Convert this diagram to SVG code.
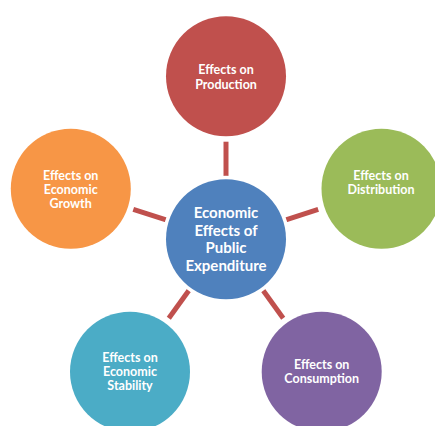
<svg xmlns="http://www.w3.org/2000/svg" width="435" height="426" viewBox="0 0 435 426">
<style>
.ring{fill:#FFFFFF}
.lbl{fill:#FFFFFF;font-family:Lato,"Liberation Sans",sans-serif;font-weight:bold;font-size:12.5px;text-anchor:middle}
.big{font-size:15px}
.conn line{stroke:#C0504D;stroke-width:5;stroke-linecap:butt}
</style>
<rect width="435" height="426" fill="#FFFFFF"/>
<g class="conn" id="connectors">
<line x1="226" y1="176.5" x2="226" y2="141.7"/>
<line x1="285.9" y1="219.9" x2="318.2" y2="209.4"/>
<line x1="166.1" y1="219.9" x2="133.3" y2="209.4"/>
<line x1="189" y1="290.3" x2="168.8" y2="318.3"/>
<line x1="263" y1="290.3" x2="283.2" y2="318.3"/>
</g>
<g id="production">
<circle class="ring" cx="226" cy="76.3" r="63.5"/>
<circle cx="226" cy="76.3" r="60" fill="#C0504D"/>
<text class="lbl" x="226" y="74">Effects on</text>
<text class="lbl" x="226" y="88.5">Production</text>
</g>
<g id="distribution">
<circle class="ring" cx="381.5" cy="188.8" r="63.5"/>
<circle cx="381.5" cy="188.8" r="60" fill="#9BBB59"/>
<text class="lbl" x="381" y="180">Effects on</text>
<text class="lbl" x="381" y="193.7">Distribution</text>
</g>
<g id="growth">
<circle class="ring" cx="70.8" cy="188.8" r="63.5"/>
<circle cx="70.8" cy="188.8" r="60" fill="#F79646"/>
<text class="lbl" x="70.7" y="180">Effects on</text>
<text class="lbl" x="70.7" y="194">Economic</text>
<text class="lbl" x="70.7" y="208">Growth</text>
</g>
<g id="center">
<circle class="ring" cx="226" cy="239.3" r="63.5"/>
<circle cx="226" cy="239.3" r="60" fill="#4F81BD"/>
<text class="lbl big" x="226" y="218">Economic</text>
<text class="lbl big" x="226" y="236">Effects of</text>
<text class="lbl big" x="226" y="253.3">Public</text>
<text class="lbl big" x="226" y="271">Expenditure</text>
</g>
<g id="stability">
<circle class="ring" cx="130" cy="371.7" r="63.5"/>
<circle cx="130" cy="371.7" r="60" fill="#4BACC6"/>
<text class="lbl" x="130" y="361.7">Effects on</text>
<text class="lbl" x="130" y="375.7">Economic</text>
<text class="lbl" x="130" y="389.5">Stability</text>
</g>
<g id="consumption">
<circle class="ring" cx="321.7" cy="371.7" r="63.5"/>
<circle cx="321.7" cy="371.7" r="60" fill="#8064A2"/>
<text class="lbl" x="321.7" y="368.7">Effects on</text>
<text class="lbl" x="321.7" y="383">Consumption</text>
</g>
</svg>
